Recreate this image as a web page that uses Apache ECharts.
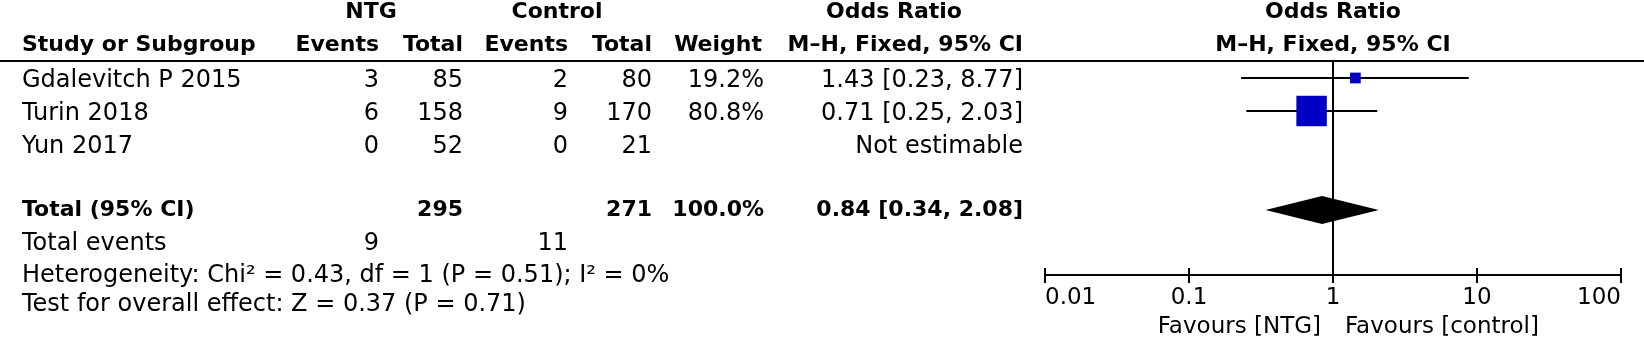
<!DOCTYPE html>
<html>
<head>
<meta charset="utf-8">
<script src="https://cdn.jsdelivr.net/npm/echarts@6/dist/echarts.min.js"></script>
<style>
  html, body { margin: 0; padding: 0; background: #fff; }
  #forest { width: 1644px; height: 338px; }
</style>
</head>
<body>
<div id="forest"></div>
<script>
var dom = document.getElementById("forest");
var myChart = echarts.init(dom, null, { renderer: "canvas" });

// study rows
var studies = ["Gdalevitch P 2015", "Turin 2018", "Yun 2017"];
var ntgEvents = [3, 6, 0];
var ntgTotal = [85, 158, 52];
var ctrlEvents = [2, 9, 0];
var ctrlTotal = [80, 170, 21];
var weights = [19.2, 80.8, null];
var orEst = [1.43, 0.71, null];
var ciLow = [0.23, 0.25, null];
var ciHigh = [8.77, 2.03, null];

// pooled result
var pooledOR = [0.84, 0.34, 2.08]; // estimate, lower, upper
var pooledTotals = [295, 271];
var pooledWeight = "100.0%";
var totalEvents = [9, 11];
var heterogeneityText = "Heterogeneity: Chi² = 0.43, df = 1 (P = 0.51); I² = 0%";
var overallText = "Test for overall effect: Z = 0.37 (P = 0.71)";

// axis
var tickValues = [0.01, 0.1, 1, 10, 100];
var favourLabels = ["Favours [NTG]", "Favours [control]"];

// row index of each line in the table (header rows are negative)
var studyRows = [0, 1, 2];
var totalRow = 4;

var FONT = "DejaVu Sans";
var FS_BOLD = 22;
var FS_REG = 24;
var FS_AXIS = 23;

function fmtCI(e, l, h) {
  return e.toFixed(2) + " [" + l.toFixed(2) + ", " + h.toFixed(2) + "]";
}

var ciData = [];
var squareData = [];
studies.forEach(function (s, i) {
  if (orEst[i] == null) return;
  ciData.push([ciLow[i], ciHigh[i], studyRows[i]]);
  squareData.push([orEst[i], studyRows[i], weights[i]]);
});

var option = {
  animation: false,
  grid: { left: 1045, width: 576, top: 61, height: 214 },
  xAxis: [
    {
      type: "log",
      logBase: 10,
      min: 0.01,
      max: 100,
      position: "bottom",
      splitLine: { show: false },
      axisLine: { show: true, onZero: false, lineStyle: { color: "#000", width: 2 } },
      axisTick: { show: true, length: 8, lineStyle: { color: "#000", width: 2 } },
      axisLabel: {
        show: true,
        color: "#000",
        fontFamily: FONT,
        fontSize: FS_AXIS,
        margin: 12,
        alignMinLabel: "left",
        alignMaxLabel: "right",
        formatter: function (v) {
          var best = tickValues[0];
          tickValues.forEach(function (t) {
            if (Math.abs(Math.log10(t) - Math.log10(v)) < Math.abs(Math.log10(best) - Math.log10(v))) best = t;
          });
          return String(best);
        },
      },
    },
    {
      type: "log",
      logBase: 10,
      min: 0.01,
      max: 100,
      position: "bottom",
      splitLine: { show: false },
      axisLine: { show: false, onZero: false },
      axisTick: { show: true, inside: true, length: 7, lineStyle: { color: "#000", width: 2 } },
      axisLabel: { show: false },
    },
  ],
  yAxis: {
    type: "value",
    inverse: true,
    min: -0.515,
    max: 5.97,
    show: false,
  },
  series: [
    {
      type: "custom",
      name: "ci",
      renderItem: function (params, api) {
        var p1 = api.coord([api.value(0), api.value(2)]);
        var p2 = api.coord([api.value(1), api.value(2)]);
        return {
          type: "line",
          shape: { x1: p1[0], y1: p1[1], x2: p2[0], y2: p2[1] },
          style: { stroke: "#000", lineWidth: 2 },
        };
      },
      encode: { x: [0, 1], y: 2 },
      data: ciData,
      z: 2,
      markLine: {
        silent: true,
        symbol: "none",
        label: { show: false },
        lineStyle: { color: "#000", width: 2, type: "solid" },
        data: [{ xAxis: 1 }],
      },
    },
    {
      type: "scatter",
      name: "study",
      symbol: "rect",
      symbolSize: function (d) {
        return 4.6 + 0.32 * d[2];
      },
      itemStyle: { color: "#0000c4", opacity: 1 },
      data: squareData,
      z: 3,
    },
    {
      type: "custom",
      name: "pooled",
      renderItem: function (params, api) {
        var lo = api.coord([api.value(0), api.value(3)]);
        var mid = api.coord([api.value(1), api.value(3)]);
        var hi = api.coord([api.value(2), api.value(3)]);
        return {
          type: "polygon",
          shape: {
            points: [
              [lo[0], lo[1]],
              [mid[0], mid[1] - 14],
              [hi[0], hi[1]],
              [mid[0], mid[1] + 14],
            ],
          },
          style: { fill: "#000" },
        };
      },
      encode: { x: [0, 1, 2], y: 3 },
      data: [[pooledOR[1], pooledOR[0], pooledOR[2], totalRow]],
      z: 3,
    },
  ],
};

myChart.setOption(option);

// table text, placed on the same rows as the plot
function rowY(r) {
  return myChart.convertToPixel({ yAxisIndex: 0 }, r);
}
var items = [];
function txt(s, x, r, align, bold, size) {
  var fs = size || (bold ? FS_BOLD : FS_REG);
  items.push({
    type: "text",
    x: x,
    y: rowY(r),
    style: {
      text: String(s),
      fill: "#000",
      font: (bold ? "bold " : "") + fs + "px '" + FONT + "'",
      align: align,
      verticalAlign: "middle",
    },
  });
}

var col = { study: 22, ntgE: 379, ntgT: 463, ctrlE: 568, ctrlT: 652, weight: 764, ci: 1023, plot: 1333 };

// header
txt("NTG", 371, -2, "center", true);
txt("Control", 557, -2, "center", true);
txt("Odds Ratio", 894, -2, "center", true);
txt("Odds Ratio", col.plot, -2, "center", true);
txt("Study or Subgroup", col.study, -1, "left", true);
txt("Events", col.ntgE, -1, "right", true);
txt("Total", col.ntgT, -1, "right", true);
txt("Events", col.ctrlE, -1, "right", true);
txt("Total", col.ctrlT, -1, "right", true);
txt("Weight", col.weight - 2, -1, "right", true);
txt("M\u2013H, Fixed, 95% CI", col.ci, -1, "right", true);
txt("M\u2013H, Fixed, 95% CI", col.plot, -1, "center", true);

studies.forEach(function (s, i) {
  var r = studyRows[i] + 0.09;
  txt(s, col.study, r, "left");
  txt(ntgEvents[i], col.ntgE, r, "right");
  txt(ntgTotal[i], col.ntgT, r, "right");
  txt(ctrlEvents[i], col.ctrlE, r, "right");
  txt(ctrlTotal[i], col.ctrlT, r, "right");
  if (weights[i] != null) txt(weights[i].toFixed(1) + "%", col.weight, r, "right");
  txt(orEst[i] == null ? "Not estimable" : fmtCI(orEst[i], ciLow[i], ciHigh[i]), col.ci, r, "right");
});

txt("Total (95% CI)", col.study, totalRow, "left", true);
txt(pooledTotals[0], col.ntgT, totalRow, "right", true);
txt(pooledTotals[1], col.ctrlT, totalRow, "right", true);
txt(pooledWeight, col.weight, totalRow, "right", true);
txt(fmtCI(pooledOR[0], pooledOR[1], pooledOR[2]), col.ci, totalRow, "right", true);
txt("Total events", col.study, 5.03, "left");
txt(totalEvents[0], col.ntgE, 5.03, "right");
txt(totalEvents[1], col.ctrlE, 5.03, "right");
txt(heterogeneityText, col.study, 6.0, "left");
txt(overallText, col.study, 6.88, "left");
txt(favourLabels[0], col.plot - 12, 7.55, "right", false, FS_AXIS);
txt(favourLabels[1], col.plot + 12, 7.55, "left", false, FS_AXIS);

items.push({
  type: "line",
  shape: { x1: 0, y1: 61, x2: 1644, y2: 61 },
  style: { stroke: "#000", lineWidth: 2 },
});

myChart.setOption({ graphic: items });

window.addEventListener("resize", myChart.resize);
</script>
</body>
</html>
